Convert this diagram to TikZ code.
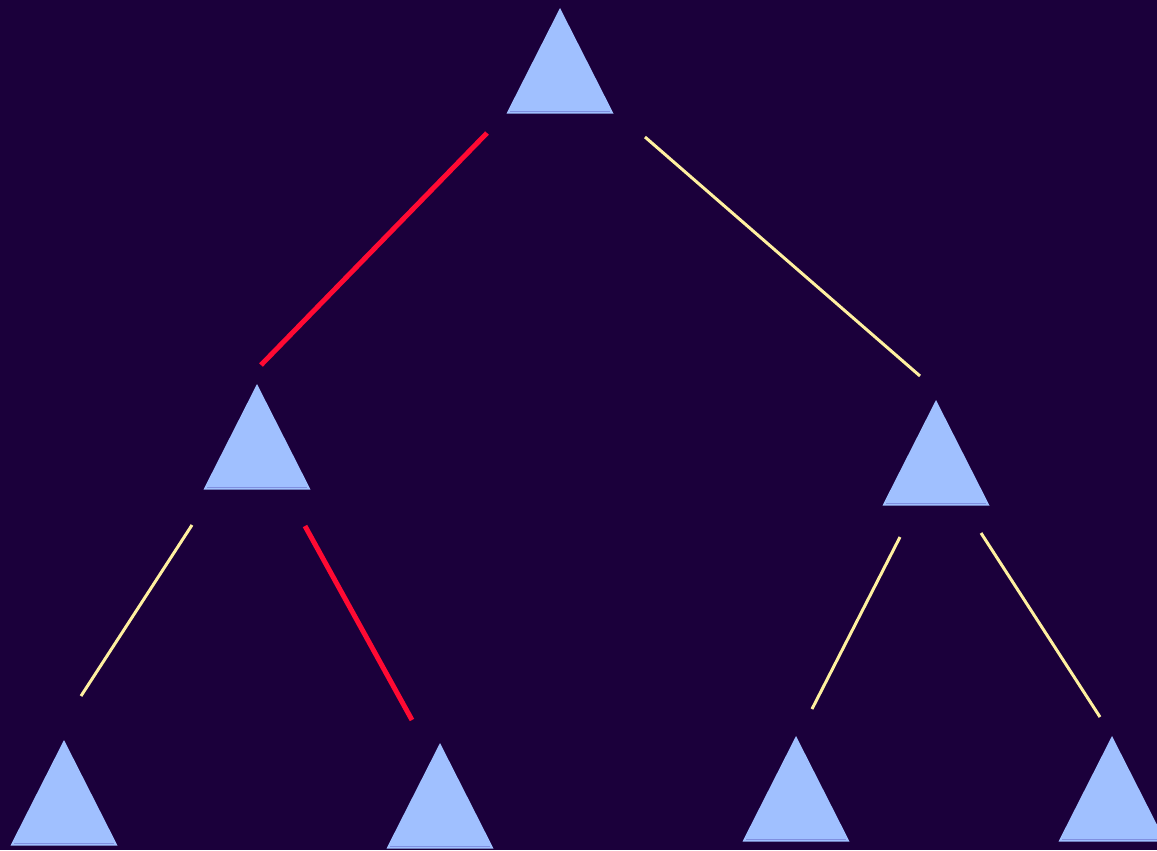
\documentclass[tikz,border=0pt]{standalone}
\usetikzlibrary{calc}
\definecolor{night}{HTML}{1B003B}
\definecolor{leafblue}{HTML}{A0C0FF}
\definecolor{baseblue}{HTML}{7F8FE0}
\definecolor{hotred}{HTML}{FF0A33}
\definecolor{paleyel}{HTML}{FFF0A0}

\begin{document}
\begin{tikzpicture}[x=0.02cm,y=-0.02cm,
  path edge/.style={hotred,line width=0.1cm},
  side edge/.style={paleyel,line width=0.06cm}]
  \useasboundingbox (0,0) rectangle (1157,850);
  \clip (0,0) rectangle (1157,850);
  \fill[night] (0,0) rectangle (1157,850);
  % triangles, named by their apex
  \foreach \n/\x/\y in {root/560/8, lft/257/384, rgt/936/400,
      lftlft/64/740, lftrgt/440/743, rgtlft/796/736, rgtrgt/1112/736} {
    \coordinate (\n) at (\x,\y);
    \fill[leafblue] (\n) -- ++(-53.5,105.5) -- ++(107,0) -- cycle;
    \draw[baseblue,line width=0.02cm] ($(\n)+(-50,103.5)$) -- ++(100,0);
  }
  % edge ends
  \coordinate (e1a) at (487,133); \coordinate (e1b) at (261,365);
  \coordinate (e2a) at (645,137); \coordinate (e2b) at (920,376);
  \coordinate (e3a) at (192,525); \coordinate (e3b) at (81,696);
  \coordinate (e4a) at (305,526); \coordinate (e4b) at (412,720);
  \coordinate (e5a) at (900,537); \coordinate (e5b) at (812,709);
  \coordinate (e6a) at (981,533); \coordinate (e6b) at (1100,717);
  \draw[path edge] (e1a) -- (e1b);
  \draw[path edge] (e4a) -- (e4b);
  \draw[side edge] (e2a) -- (e2b);
  \draw[side edge] (e3a) -- (e3b);
  \draw[side edge] (e5a) -- (e5b);
  \draw[side edge] (e6a) -- (e6b);
\end{tikzpicture}
\end{document}
